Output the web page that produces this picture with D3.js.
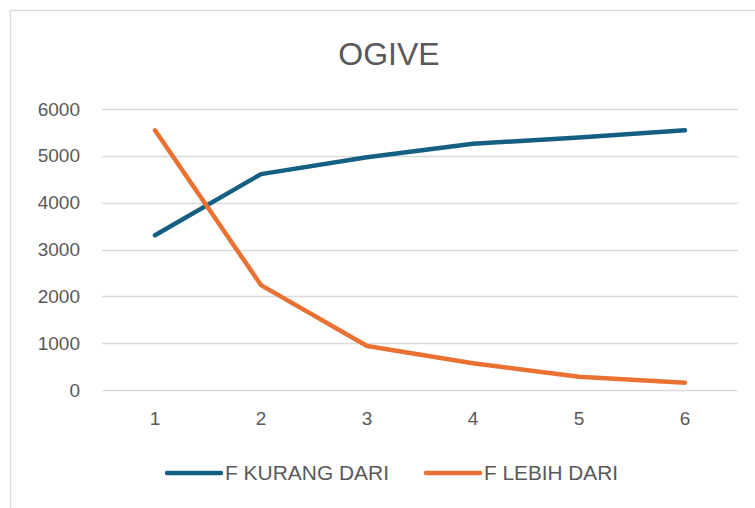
<!DOCTYPE html>
<html>
<head>
<meta charset="utf-8">
<script src="https://cdn.jsdelivr.net/npm/d3@7"></script>
<style>
  html, body { margin: 0; padding: 0; background: #fff; }
  svg { display: block; }
</style>
</head>
<body>
<svg id="chart" width="755" height="508"></svg>
<script>
const categories = ["1", "2", "3", "4", "5", "6"];
const seriesNames = ["F KURANG DARI", "F LEBIH DARI"];
const fKurangDari = [3305, 4610, 4970, 5260, 5390, 5545];
const fLebihDari = [5545, 2240, 940, 570, 285, 155];
const yTicks = [0, 1000, 2000, 3000, 4000, 5000, 6000];
const colors = ["#156082", "#E97132"];
const title = "OGIVE";

const svg = d3.select("#chart");
const font = "'Liberation Sans', Arial, sans-serif";
const textColor = "#595959";

// chart border
svg.append("rect")
  .attr("x", 10.5).attr("y", 10.5)
  .attr("width", 800).attr("height", 600)
  .attr("fill", "#fff")
  .attr("stroke", "#d9d9d9").attr("stroke-width", 1.3);

const plot = { left: 102, right: 738, top: 109, bottom: 390 };

const x = d3.scaleBand().domain(categories).range([plot.left, plot.right]);
const y = d3.scaleLinear().domain([0, 6000]).range([plot.bottom, plot.top]);

// title
svg.append("text")
  .attr("x", 389).attr("y", 65)
  .attr("text-anchor", "middle")
  .attr("font-family", font).attr("font-size", 32)
  .attr("fill", textColor)
  .text(title);

// gridlines
svg.append("g").selectAll("line").data(yTicks).join("line")
  .attr("x1", plot.left).attr("x2", plot.right)
  .attr("y1", d => Math.round(y(d)) + 0.5).attr("y2", d => Math.round(y(d)) + 0.5)
  .attr("stroke", "#d9d9d9").attr("stroke-width", 1.3);

// y axis labels
const yAxis = d3.axisLeft(y).tickValues(yTicks).tickSize(0).tickPadding(0).tickFormat(d3.format("d"));
const gy = svg.append("g").attr("transform", `translate(80,0)`).call(yAxis);
gy.select(".domain").remove();
gy.selectAll("text").attr("font-family", font).attr("font-size", 19).attr("fill", textColor);

// x axis labels
const xAxis = d3.axisBottom(x).tickSize(0).tickPadding(0);
const gx = svg.append("g").attr("transform", `translate(0,411)`).call(xAxis);
gx.select(".domain").remove();
gx.selectAll("text").attr("font-family", font).attr("font-size", 19).attr("fill", textColor);

// lines
const line = d3.line()
  .x((d, i) => x(categories[i]) + x.bandwidth() / 2)
  .y(d => y(d));

[fKurangDari, fLebihDari].forEach((vals, k) => {
  svg.append("path")
    .datum(vals)
    .attr("d", line)
    .attr("fill", "none")
    .attr("stroke", colors[k])
    .attr("stroke-width", 4.5)
    .attr("stroke-linecap", "round")
    .attr("stroke-linejoin", "round");
});

// legend
const legendItems = [
  { name: seriesNames[0], color: colors[0], x0: 167, w: 164 },
  { name: seriesNames[1], color: colors[1], x0: 426, w: 134 }
];
const ly = 473;
const lg = svg.append("g");
legendItems.forEach(it => {
  lg.append("line")
    .attr("x1", it.x0).attr("x2", it.x0 + 54)
    .attr("y1", ly).attr("y2", ly)
    .attr("stroke", it.color).attr("stroke-width", 4.5)
    .attr("stroke-linecap", "round");
  lg.append("text")
    .attr("x", it.x0 + 58).attr("y", ly)
    .attr("dy", "0.35em")
    .attr("font-family", font).attr("font-size", 20)
    .attr("textLength", it.w).attr("lengthAdjust", "spacingAndGlyphs")
    .attr("fill", textColor)
    .text(it.name);
});
</script>
</body>
</html>
